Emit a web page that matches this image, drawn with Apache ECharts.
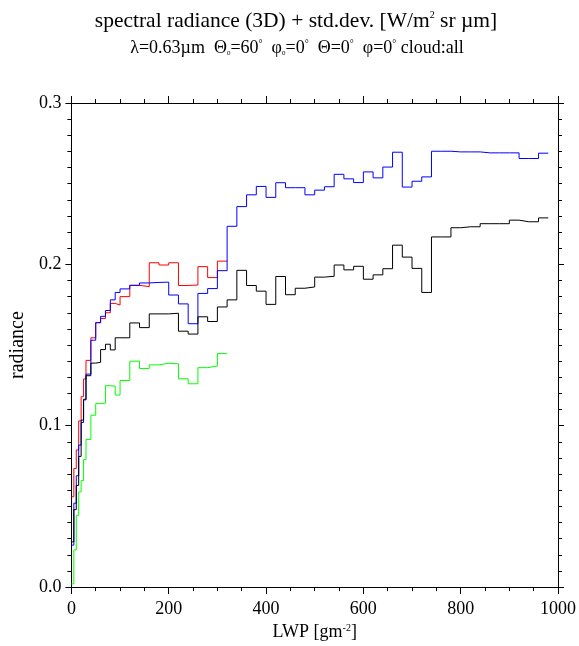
<!DOCTYPE html>
<html>
<head>
<meta charset="utf-8">
<script src="https://cdn.jsdelivr.net/npm/echarts@6/dist/echarts.min.js"></script>
<style>
html,body{margin:0;padding:0;background:#fff;}
#chart{width:579px;height:646px;}
</style>
</head>
<body>
<div id="chart"></div>
<script>
// LWP bin edges [g m^-2]
const binEdges = [0,5,10,15,20,25,30,40,50,60,70,80,90,100,
  120,140,160,180,200,220,240,260,280,300,320,340,360,380,400,420,440,460,480,500,
  520,540,560,580,600,620,640,660,680,700,720,740,760,780,800,820,840,860,880,900,
  920,940,960,980];

const blueValues = [0.026,0.052,0.069,0.088,0.102,0.116,0.132,0.153,0.1638,0.1678,0.1714,0.178,0.1826,
  0.1848,0.187,0.1885,0.1888,0.189,0.181,0.1755,0.1632,0.182,0.185,0.1961,0.2236,0.2358,0.2431,0.2483,
  0.2415,0.2506,0.2475,0.2475,0.2431,0.246,0.2481,0.2558,0.2530,0.2507,0.2573,0.2536,0.2603,0.2695,
  0.2479,0.2515,0.2542,0.2701,0.2701,0.2697,0.2697,0.2697,0.2691,0.2691,0.2691,0.2691,0.2656,0.2656,0.2689];

const blackValues = [0.028,0.048,0.063,0.081,0.1035,0.1164,0.131,0.1388,0.1393,0.1472,0.1505,0.147,0.1545,
  0.1545,0.1637,0.1608,0.1693,0.1693,0.1697,0.1586,0.1568,0.1675,0.1646,0.1736,0.178,0.1963,0.1869,0.1834,
  0.1752,0.1925,0.1812,0.1852,0.186,0.1921,0.1926,0.1996,0.1966,0.1988,0.1908,0.1935,0.1973,0.2119,
  0.2045,0.1975,0.1826,0.217,0.217,0.2227,0.2233,0.2233,0.2252,0.2252,0.2252,0.2274,0.2264,0.2264,0.2288];

const redValues = [0.056,0.0735,0.085,0.103,0.118,0.129,0.1405,0.1545,0.164,0.1665,0.170,0.1758,0.1748,
  0.180,0.187,0.1862,0.201,0.1996,0.201,0.1869,0.1872,0.1986,0.1918,0.202];

const greenValues = [0.002,0.023,0.0445,0.059,0.066,0.079,0.0915,0.1065,0.1137,0.114,0.1248,0.1245,0.119,
  0.128,0.14,0.1355,0.1377,0.1387,0.1384,0.1291,0.126,0.136,0.137,0.1447];

const xTicks = [0,200,400,600,800,1000];
const yTicks = [0.0,0.1,0.2,0.3];

function stepData(vals){
  const d = vals.map((v,i)=>[binEdges[i], v]);
  d.push([binEdges[vals.length], vals[vals.length-1]]);
  return d;
}

const FONT = '"Liberation Serif", "DejaVu Serif", serif';
const chart = echarts.init(document.getElementById('chart'), null, {renderer:'canvas'});

function mkX(pos, show){
  return {
    type:'value', position:pos, min:xTicks[0], max:xTicks[xTicks.length-1], interval:200,
    axisLine:{show:true, onZero:false, lineStyle:{color:'#000', width:1}},
    axisTick:{show:true, inside:false, length:7, lineStyle:{color:'#000'}},
    minorTick:{show:true, splitNumber:4, length:4, lineStyle:{color:'#000'}},
    splitLine:{show:false},
    axisLabel:{show:show, color:'#000', fontFamily:FONT, fontSize:18, margin:13,
      formatter:(v)=>String(v)},
    name: show ? '{t|LWP [gm}{s|-2}{t|]}' : '',
    nameLocation:'middle', nameGap:31,
    nameTextStyle:{rich:{
      t:{fontFamily:FONT, fontSize:18, color:'#000'},
      s:{fontFamily:FONT, fontSize:10, color:'#000', verticalAlign:'top'}
    }}
  };
}
function mkY(pos, show){
  return {
    type:'value', position:pos, min:0, max:0.3, interval:0.1,
    axisLine:{show:true, onZero:false, lineStyle:{color:'#000', width:1}},
    axisTick:{show:true, inside:false, length:6, lineStyle:{color:'#000'}},
    minorTick:{show:true, splitNumber:10, length:4, lineStyle:{color:'#000'}},
    splitLine:{show:false},
    axisLabel:{show:show, color:'#000', fontFamily:FONT, fontSize:18, margin:10,
      formatter:(v)=>v.toFixed(1)},
    name: show ? 'radiance' : '',
    nameLocation:'middle', nameGap:39, nameRotate:90,
    nameTextStyle:{fontFamily:FONT, fontSize:20, color:'#000'}
  };
}

function lineSeries(vals, color){
  return {
    type:'line', step:'end', data:stepData(vals), xAxisIndex:0, yAxisIndex:0,
    showSymbol:false, symbol:'none', animation:false,
    lineStyle:{color:color, width:1}
  };
}

chart.setOption({
  animation:false,
  backgroundColor:'#fff',
  grid:{left:71, right:18, top:103, bottom:54, containLabel:false},
  xAxis:[mkX('bottom', true), mkX('top', false)],
  yAxis:[mkY('left', true), mkY('right', false)],
  graphic:[
    {type:'text', x:296, y:21, style:{
      text:'{t|spectral radiance (3D) + std.dev. [W/m}{s|2}{t| sr µm]}',
      textAlign:'center', textVerticalAlign:'middle',
      rich:{
        t:{fontFamily:FONT, fontSize:21.5, fill:'#000', color:'#000'},
        s:{fontFamily:FONT, fontSize:10, fill:'#000', color:'#000', verticalAlign:'top'}
      }
    }},
    {type:'text', x:297, y:48, style:{
      text:'{t|λ=0.63µm  Θ}{b|0}{t|=60}{s|°}{t|  φ}{b|0}{t|=0}{s|°}{t|  Θ=0}{s|°}{t|  φ=0}{s|°}{t| cloud:all}',
      textAlign:'center', textVerticalAlign:'middle',
      rich:{
        t:{fontFamily:FONT, fontSize:18, fill:'#000', color:'#000'},
        s:{fontFamily:FONT, fontSize:10, fill:'#000', color:'#000', verticalAlign:'top'},
        b:{fontFamily:FONT, fontSize:7, fill:'#000', color:'#000', verticalAlign:'bottom'}
      }
    }}
  ],
  series:[
    lineSeries(redValues, '#ff0000'),
    lineSeries(blueValues, '#0000ff'),
    lineSeries(blackValues, '#000000'),
    lineSeries(greenValues, '#00ff00')
  ]
});
</script>
</body>
</html>
